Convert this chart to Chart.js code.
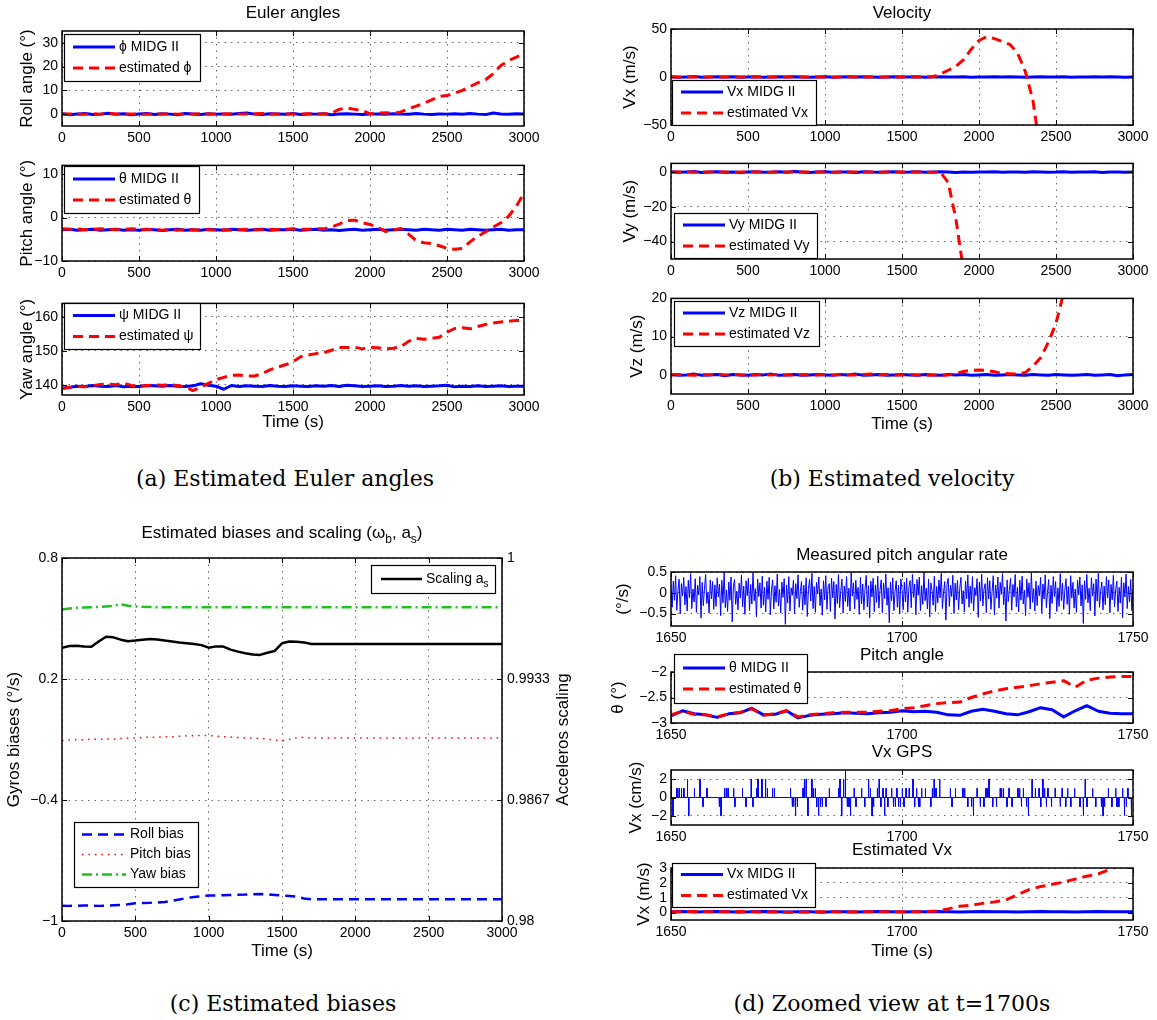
<!DOCTYPE html>
<html>
<head>
<meta charset="utf-8">
<title>Estimation results</title>
<script src="https://cdn.jsdelivr.net/npm/chart.js@4.4.1/dist/chart.umd.min.js"></script>
<style>
  html, body { margin: 0; padding: 0; background: #fff; }
  body { position: relative; width: 1157px; height: 1020px; overflow: hidden; }
  canvas { position: absolute; }
  .caption { position: absolute; transform: translate(-50%, -50%); white-space: nowrap;
             font-family: "DejaVu Serif", "Liberation Serif", serif; font-size: 22px; color: #000; }
</style>
</head>
<body>
<div class="caption" style="left:285px; top:478px">(a) Estimated Euler angles</div>
<div class="caption" style="left:892px; top:478px">(b) Estimated velocity</div>
<div class="caption" style="left:283px; top:1003px">(c) Estimated biases</div>
<div class="caption" style="left:892px; top:1003px">(d) Zoomed view at t=1700s</div>
<script>
// ---------- time bases ----------
const tA = [
  0, 50, 100, 150, 200, 250, 300, 350, 400, 450,
  500, 550, 600, 650, 700, 750, 800, 850, 900, 950,
  1000, 1050, 1100, 1150, 1200, 1250, 1300, 1350, 1400, 1450,
  1500, 1550, 1600, 1650, 1700, 1750, 1800, 1850, 1900, 1950,
  2000, 2050, 2100, 2150, 2200, 2250, 2300, 2350, 2400, 2450,
  2500, 2550, 2600, 2650, 2700, 2750, 2800, 2850, 2900, 2950,
  3000
];
const tZ = [
  1650, 1652.5, 1655, 1657.5, 1660, 1662.5, 1665, 1667.5, 1670, 1672.5,
  1675, 1677.5, 1680, 1682.5, 1685, 1687.5, 1690, 1692.5, 1695, 1697.5,
  1700, 1702.5, 1705, 1707.5, 1710, 1712.5, 1715, 1717.5, 1720, 1722.5,
  1725, 1727.5, 1730, 1732.5, 1735, 1737.5, 1740, 1742.5, 1745, 1747.5,
  1750
];

// ---------- (a) Euler angles ----------
const rollMidg = [
  0.2, -0.3, 0.1, 0.3, -0.2, 0.0, 0.4, -0.1, 0.2, -0.3,
  0.1, 0.3, -0.2, 0.2, 0.0, -0.3, 0.3, 0.1, -0.2, 0.2,
  0.0, 0.1, -0.1, 0.3, 0.5, 0.0, -0.2, 0.2, 0.1, -0.1,
  0.3, -0.2, 0.1, 0.0, 0.2, -0.3, 0.1, 0.2, 0.0, -0.2,
  0.0, 0.1, -0.1, 0.2, 0.0, -0.1, 0.3, 0.0, -0.2, 0.1,
  0.0, 0.2, -0.1, 0.3, 0.0, -0.2, 0.5, 0.1, -0.1, 0.2,
  0.0
];
const rollEst = [
  0.0, 0.1, 0.0, -0.1, 0.2, 0.0, 0.3, 0.1, 0.0, 0.1,
  0.0, -0.1, 0.1, 0.0, 0.2, 0.0, 0.1, 0.0, 0.2, 0.1,
  0.0, 0.1, 0.2, 0.0, 0.1, 0.2, 0.3, 0.0, 0.1, 0.0,
  0.1, 0.0, 0.2, 0.0, 0.1, 0.4, 2.0, 2.6, 2.0, 1.4,
  0.2, 0.4, 0.6, 0.3, 0.9, 2.3, 3.4, 4.6, 6.0, 7.5,
  7.8, 8.8, 10.0, 11.6, 13.2, 14.5, 17.0, 20.5, 22.5, 24.0,
  25.3
];
const pitchMidg = [
  -2.8, -2.7, -2.9, -2.8, -2.7, -2.9, -2.8, -2.7, -2.9, -2.8,
  -2.9, -2.7, -2.8, -3.0, -2.8, -2.7, -2.9, -2.8, -2.9, -2.7,
  -2.8, -2.9, -2.7, -2.8, -2.9, -2.8, -2.7, -2.9, -2.8, -2.8,
  -2.7, -2.9, -2.8, -2.7, -2.9, -2.8, -3.0, -2.8, -2.7, -2.9,
  -2.8, -2.7, -2.9, -2.8, -2.7, -2.8, -2.9, -2.7, -2.8, -2.9,
  -2.7, -2.8, -2.9, -2.7, -2.8, -2.9, -2.8, -2.7, -2.9, -2.8,
  -2.8
];
const pitchEst = [
  -2.6, -2.7, -2.6, -2.8, -2.7, -2.6, -2.7, -2.8, -2.7, -2.6,
  -2.7, -2.8, -2.7, -2.9, -2.8, -2.9, -2.8, -2.8, -2.9, -2.8,
  -2.9, -2.8, -2.9, -2.8, -2.7, -2.8, -2.8, -2.7, -2.8, -2.7,
  -2.6, -2.7, -2.7, -2.6, -2.6, -2.2, -1.5, -0.7, -0.6, -1.2,
  -1.6, -2.2, -3.2, -2.9, -2.5, -3.8, -5.3, -5.8, -6.0, -6.5,
  -7.1, -7.3, -7.1, -5.6, -4.3, -3.3, -2.2, -1.2, 0.3, 2.6,
  5.6
];
const yawMidg = [
  139.0, 139.3, 139.6, 139.5, 139.8, 139.6, 139.5, 139.8, 139.4, 139.6,
  139.5, 139.8, 139.7, 139.6, 139.8, 139.6, 139.5, 139.7, 140.3, 139.9,
  139.6, 138.7, 139.8, 139.5, 139.7, 139.6, 139.5, 139.8, 139.6, 139.5,
  139.7, 139.6, 139.5, 139.7, 139.6, 139.8, 139.5, 139.9, 139.7, 139.5,
  139.6, 139.7, 139.5, 139.6, 139.8, 139.6, 139.7, 139.5, 139.6, 139.7,
  139.9, 139.4, 139.6, 139.5, 139.7, 139.5, 139.6, 139.7, 139.5, 139.6,
  139.6
];
const yawEst = [
  139.0, 139.2, 139.5, 139.4, 139.8, 140.1, 140.2, 140.0, 140.5, 139.8,
  139.5, 139.8, 140.0, 139.9, 140.0, 139.8, 139.4, 138.3, 139.3, 140.4,
  141.5, 142.2, 142.8, 142.9, 142.6, 142.6, 143.3, 144.4, 145.2, 145.9,
  146.8, 148.3, 148.8, 149.2, 149.5, 150.2, 151.0, 151.0, 151.1, 150.6,
  151.0, 150.9, 150.6, 150.8, 151.2, 152.8, 153.7, 153.4, 153.7, 154.0,
  155.5, 156.6, 156.8, 156.5, 157.2, 157.8, 158.2, 158.5, 158.7, 159.0,
  158.9
];

// ---------- (b) velocity ----------
const vxMidg = [
  0.3, -0.2, 0.1, 0.4, -0.3, 0.0, 0.2, -0.1, 0.3, -0.2,
  0.1, 0.2, -0.3, 0.0, 0.3, -0.1, 0.2, 0.0, -0.2, 0.1,
  0.3, -0.2, 0.0, 0.2, -0.1, 0.3, 0.0, -0.3, 0.1, 0.2,
  -0.1, 0.0, 0.3, -0.2, 0.1, 0.2, 0.0, -0.1, 0.3, -0.2,
  0.1, 0.0, 0.2, -0.1, 0.3, 0.0, -0.2, 0.1, 0.2, -0.1,
  0.0, 0.3, -0.2, 0.1, 0.0, 0.2, -0.1, 0.3, 0.0, -0.2,
  0.1
];
const vxEst = [
  0.1, 0.0, -0.1, 0.2, 0.0, 0.1, 0.0, -0.1, 0.1, 0.0,
  0.2, 0.0, 0.1, -0.1, 0.0, 0.1, 0.2, 0.0, -0.1, 0.1,
  0.0, 0.1, 0.0, 0.2, -0.1, 0.0, 0.1, 0.0, 0.1, -0.1,
  0.0, 0.2, 0.0, 0.1, 0.3, 3.0, 7.0, 11.0, 18.0, 29.0,
  38.0, 42.0, 40.0, 37.0, 34.0, 25.0, 6.0, -24.0, -80.0, null,
  null, null, null, null, null, null, null, null, null, null,
  null
];
const vyMidg = [
  0.2, -0.1, 0.1, 0.3, -0.2, 0.0, 0.2, -0.1, 0.1, -0.2,
  0.1, 0.2, -0.1, 0.0, 0.2, -0.1, 0.3, 0.0, -0.2, 0.1,
  0.2, -0.1, 0.0, 0.1, -0.2, 0.2, 0.0, -0.1, 0.1, 0.2,
  -0.1, 0.0, 0.2, -0.1, 0.1, 0.2, 0.0, -0.2, 0.1, -0.1,
  0.1, 0.0, 0.2, -0.1, 0.1, 0.0, -0.1, 0.2, 0.1, -0.1,
  0.0, 0.2, -0.1, 0.1, 0.0, 0.2, -0.2, 0.1, 0.0, -0.1,
  0.1
];
const vyEst = [
  0.0, 0.1, 0.0, -0.1, 0.1, 0.0, 0.1, 0.0, -0.1, 0.0,
  0.1, 0.0, 0.0, -0.1, 0.1, 0.0, 0.1, 0.0, 0.0, 0.1,
  0.0, -0.1, 0.0, 0.1, 0.0, 0.0, 0.1, -0.1, 0.0, 0.1,
  0.0, 0.0, 0.1, 0.0, -0.1, 0.0, -6.0, -27.0, -57.0, null,
  null, null, null, null, null, null, null, null, null, null,
  null, null, null, null, null, null, null, null, null, null,
  null
];
const vzMidg = [
  0.1, -0.1, 0.0, 0.2, -0.1, 0.0, 0.1, -0.2, 0.1, 0.0,
  -0.1, 0.1, 0.0, 0.2, -0.1, 0.0, 0.1, -0.1, 0.0, 0.1,
  0.0, -0.1, 0.1, 0.0, 0.2, -0.1, 0.0, 0.1, -0.1, 0.0,
  0.1, 0.0, -0.1, 0.1, 0.0, -0.1, 0.1, 0.0, 0.1, -0.1,
  0.0, 0.1, -0.1, 0.0, 0.1, 0.0, -0.1, 0.1, 0.0, -0.1,
  0.1, 0.0, -0.1, 0.0, 0.1, -0.1, 0.0, 0.1, -0.2, 0.0,
  0.1
];
const vzEst = [
  0.0, 0.1, 0.0, -0.1, 0.1, 0.0, 0.2, 0.0, 0.1, 0.0,
  -0.1, 0.0, 0.1, 0.0, 0.1, 0.0, 0.0, 0.1, 0.0, 0.0,
  0.1, 0.0, 0.1, 0.0, 0.0, 0.1, 0.2, 0.0, 0.1, 0.0,
  0.0, 0.1, 0.0, -0.1, 0.0, -0.2, 0.0, 0.3, 0.9, 1.2,
  1.3, 1.2, 0.8, 0.4, 0.3, 0.2, 0.6, 2.2, 4.5, 8.5,
  13.5, 21.5, 30.0, null, null, null, null, null, null, null,
  null
];

// ---------- (c) biases and scaling ----------
const rollBias = [
  -0.924, -0.925, -0.924, -0.923, -0.924, -0.925, -0.924, -0.922, -0.920, -0.917,
  -0.912, -0.911, -0.910, -0.908, -0.906, -0.900, -0.893, -0.886, -0.881, -0.877,
  -0.874, -0.873, -0.872, -0.871, -0.870, -0.869, -0.867, -0.866, -0.868, -0.871,
  -0.874, -0.876, -0.879, -0.888, -0.892, -0.892, -0.892, -0.892, -0.892, -0.892,
  -0.892, -0.892, -0.892, -0.892, -0.892, -0.892, -0.892, -0.892, -0.892, -0.892,
  -0.892, -0.892, -0.892, -0.892, -0.892, -0.892, -0.892, -0.892, -0.892, -0.892,
  -0.892
];
const pitchBias = [
  -0.105, -0.103, -0.100, -0.102, -0.098, -0.100, -0.097, -0.099, -0.095, -0.093,
  -0.093, -0.090, -0.088, -0.090, -0.086, -0.087, -0.084, -0.082, -0.081, -0.080,
  -0.080, -0.083, -0.086, -0.088, -0.090, -0.091, -0.093, -0.095, -0.098, -0.103,
  -0.105, -0.100, -0.092, -0.089, -0.093, -0.093, -0.093, -0.093, -0.093, -0.093,
  -0.093, -0.093, -0.093, -0.093, -0.093, -0.093, -0.093, -0.093, -0.093, -0.093,
  -0.093, -0.093, -0.093, -0.093, -0.093, -0.093, -0.093, -0.093, -0.093, -0.093,
  -0.093
];
const yawBias = [
  0.545, 0.550, 0.553, 0.555, 0.556, 0.557, 0.560, 0.563, 0.570, 0.563,
  0.560, 0.558, 0.557, 0.556, 0.556, 0.556, 0.556, 0.556, 0.556, 0.556,
  0.556, 0.556, 0.556, 0.556, 0.556, 0.556, 0.556, 0.556, 0.556, 0.556,
  0.556, 0.556, 0.556, 0.556, 0.556, 0.556, 0.556, 0.556, 0.556, 0.556,
  0.556, 0.556, 0.556, 0.556, 0.556, 0.556, 0.556, 0.556, 0.556, 0.556,
  0.556, 0.556, 0.556, 0.556, 0.556, 0.556, 0.556, 0.556, 0.556, 0.556,
  0.556
];
const accScaling = [
  0.99506, 0.99515, 0.99517, 0.99512, 0.99511, 0.99540, 0.99566, 0.99563, 0.99550, 0.99541,
  0.99545, 0.99550, 0.99554, 0.99551, 0.99545, 0.99540, 0.99534, 0.99530, 0.99526, 0.99520,
  0.99506, 0.99513, 0.99512, 0.99495, 0.99484, 0.99475, 0.99468, 0.99466, 0.99478, 0.99488,
  0.99530, 0.99540, 0.99539, 0.99535, 0.99526, 0.99526, 0.99526, 0.99526, 0.99526, 0.99526,
  0.99526, 0.99526, 0.99526, 0.99526, 0.99526, 0.99526, 0.99526, 0.99526, 0.99526, 0.99526,
  0.99526, 0.99526, 0.99526, 0.99526, 0.99526, 0.99526, 0.99526, 0.99526, 0.99526, 0.99526,
  0.99526
];

// ---------- (d) zoom at t = 1700 s ----------
const rateStart = 1650, rateStep = 0.25;   // gyro sample times
const rateVals = [
  0.12, -0.35, 0.28, -0.18, 0.41, -0.42, 0.05, 0.33, -0.51, 0.22, -0.08, 0.37, -0.29, 0.15, -0.44, 0.30, -0.12, 0.46, -0.38, 0.09,
  -0.22, 0.34, -0.47, 0.18, -0.05, 0.39, -0.61, 0.25, -0.31, 0.11, 0.44, -0.26, 0.02, -0.49, 0.31, -0.15, 0.27, -0.40, 0.19, -0.33,
  0.36, -0.10, 0.21, -0.55, 0.30, -0.24, 0.50, -0.36, 0.07, -0.45, 0.26, -0.18, 0.38, -0.70, 0.14, 0.32, -0.28, 0.04, -0.41, 0.23,
  -0.13, 0.42, -0.34, 0.16, -0.52, 0.29, -0.07, 0.35, -0.43, 0.20, -0.27, 0.48, -0.19, 0.10, -0.58, 0.33, -0.09, 0.24, -0.37, 0.40,
  -0.30, 0.13, -0.46, 0.28, -0.16, 0.37, -0.53, 0.06, 0.31, -0.39, 0.17, -0.23, 0.45, -0.32, 0.08, -0.48, 0.26, -0.11, 0.34, -0.76,
  0.19, -0.25, 0.39, -0.44, 0.12, -0.06, 0.30, -0.50, 0.22, -0.14, 0.43, -0.35, 0.03, 0.27, -0.42, 0.18, -0.29, 0.36, -0.57, 0.10,
  0.32, -0.20, 0.47, -0.38, 0.15, -0.47, 0.25, -0.03, 0.38, -0.31, 0.09, -0.54, 0.29, -0.17, 0.41, -0.40, 0.14, 0.22, -0.45, 0.35,
  -0.12, 0.27, -0.63, 0.20, -0.26, 0.44, -0.36, 0.05, 0.33, -0.49, 0.16, -0.21, 0.39, -0.33, 0.11, -0.44, 0.50, -0.08, 0.24, -0.39,
  0.30, -0.16, 0.13, -0.52, 0.37, -0.27, 0.21, -0.41, 0.08, 0.42, -0.34, 0.17, -0.60, 0.28, -0.10, 0.35, -0.46, 0.19, -0.23, 0.40,
  -0.37, 0.07, 0.31, -0.48, 0.23, -0.14, 0.45, -0.30, 0.12, -0.72, 0.26, -0.19, 0.36, -0.43, 0.04, 0.29, -0.35, 0.18, -0.51, 0.33,
  0.08, -0.41, 0.26, -0.22, 0.35, -0.47, 0.14, 0.29, -0.36, 0.44, -0.11, 0.21, -0.53, 0.32, -0.06, 0.38, -0.43, 0.17, -0.28, 0.49,
  -0.19, 0.11, -0.39, 0.33, -0.58, 0.24, 0.06, -0.30, 0.40, -0.45, 0.15, -0.24, 0.31, -0.12, 0.47, -0.38, 0.02, 0.27, -0.66, 0.20,
  0.35, -0.33, 0.18, -0.09, 0.42, -0.50, 0.23, -0.17, 0.30, -0.41, 0.10, 0.37, -0.27, 0.05, -0.46, 0.28, -0.14, 0.43, -0.35, 0.16,
  -0.25, 0.39, -0.44, 0.12, -0.07, 0.34, -0.59, 0.26, -0.20, 0.45, -0.32, 0.09, 0.22, -0.48, 0.36, -0.15, 0.29, -0.40, 0.03, 0.41,
  -0.53, 0.19, -0.13, 0.38, -0.37, 0.25, -0.04, 0.46, -0.29, 0.14, -0.68, 0.31, -0.21, 0.08, 0.35, -0.42, 0.20, -0.10, 0.44, -0.34,
  0.13, -0.46, 0.30, -0.18, 0.40, -0.27, 0.06, -0.55, 0.33, -0.11, 0.24, -0.39, 0.48, -0.23, 0.10, -0.44, 0.28, -0.31, 0.17, -0.07,
  0.37, -0.49, 0.21, -0.15, 0.43, -0.36, 0.01, 0.32, -0.62, 0.18, -0.26, 0.39, -0.09, 0.27, -0.45, 0.12, -0.33, 0.46, -0.19, 0.23,
  -0.40, 0.06, 0.34, -0.28, 0.15, -0.52, 0.41, -0.13, 0.25, -0.37, 0.09, -0.47, 0.30, -0.05, 0.38, -0.32, 0.19, -0.74, 0.29, -0.16,
  0.44, -0.24, 0.11, -0.43, 0.36, -0.08, 0.22, -0.56, 0.33, -0.20, 0.47, -0.35, 0.04, 0.26, -0.41, 0.16, -0.29, 0.39, -0.12, 0.31,
  -0.48, 0.20, -0.17, 0.42, -0.34, 0.07, 0.28, -0.45, 0.13, -0.25, 0.37, -0.60, 0.24, -0.10, 0.45, -0.38, 0.15, -0.22, 0.32, -0.43,
  0.10
];
const pitchMidgZ = [
  -2.86, -2.76, -2.82, -2.84, -2.89, -2.82, -2.80, -2.71, -2.84, -2.83,
  -2.76, -2.90, -2.85, -2.83, -2.82, -2.80, -2.81, -2.82, -2.80, -2.79,
  -2.76, -2.78, -2.77, -2.79, -2.84, -2.85, -2.77, -2.73, -2.77, -2.82,
  -2.84, -2.78, -2.70, -2.74, -2.88, -2.76, -2.66, -2.77, -2.81, -2.82,
  -2.82
];
const pitchEstZ = [
  -2.84, -2.77, -2.83, -2.84, -2.88, -2.82, -2.79, -2.72, -2.85, -2.82,
  -2.76, -2.88, -2.84, -2.82, -2.80, -2.79, -2.79, -2.79, -2.77, -2.76,
  -2.72, -2.70, -2.66, -2.62, -2.60, -2.59, -2.50, -2.43, -2.37, -2.33,
  -2.30, -2.27, -2.23, -2.20, -2.17, -2.30, -2.16, -2.12, -2.10, -2.09,
  -2.09
];
const gpsWidth = 0.12;   // one GPS sample, s
const gpsT = [
  1650.0, 1650.4, 1651.2, 1651.7, 1652.2, 1652.7, 1653.5, 1653.8, 1655.0, 1656.2,
  1656.9, 1657.7, 1660.4, 1660.8, 1661.5, 1661.9, 1662.3, 1663.5, 1663.8, 1665.4,
  1666.2, 1667.3, 1667.7, 1668.5, 1668.8, 1669.6, 1670.4, 1670.8, 1671.9, 1672.3,
  1675.8, 1676.2, 1676.5, 1676.9, 1677.3, 1678.5, 1678.8, 1679.2, 1679.6, 1680.4,
  1680.8, 1681.2, 1681.5, 1681.9, 1682.3, 1682.7, 1683.5, 1684.2, 1686.2, 1686.5,
  1686.9, 1687.3, 1687.7, 1688.1, 1688.5, 1688.8, 1689.6, 1690.0, 1691.2, 1691.9,
  1692.7, 1693.1, 1693.5, 1693.8, 1694.6, 1695.0, 1695.4, 1695.8, 1696.2, 1696.5,
  1696.9, 1697.7, 1698.1, 1698.5, 1698.8, 1699.2, 1699.6, 1700.0, 1700.4, 1700.8,
  1701.5, 1702.3, 1702.7, 1703.1, 1703.5, 1703.8, 1704.2, 1705.0, 1706.2, 1706.5,
  1706.9, 1707.3, 1708.1, 1710.4, 1710.8, 1711.5, 1713.1, 1713.5, 1714.2, 1715.0,
  1715.4, 1716.2, 1716.9, 1717.7, 1718.1, 1718.5, 1718.8, 1719.6, 1720.4, 1721.2,
  1721.5, 1721.9, 1722.7, 1723.1, 1723.8, 1725.0, 1725.4, 1725.8, 1726.2, 1726.9,
  1727.3, 1728.1, 1728.8, 1729.6, 1730.0, 1730.4, 1730.8, 1731.2, 1731.5, 1732.3,
  1733.1, 1734.2, 1734.6, 1735.4, 1735.8, 1736.5, 1737.3, 1738.5, 1739.2, 1739.6,
  1740.0, 1741.2, 1741.9, 1743.1, 1743.5, 1743.8, 1744.6, 1745.4, 1746.2, 1746.5,
  1746.9, 1747.7, 1748.1, 1748.5, 1748.8, 1749.6
];
const gpsV = [
  2, -2, 1, 1, 1, 1, 2, -2, 1, 2,
  -1, 1, -1, -2, 1, 1, 1, 1, -1, 1,
  -1, 2, -1, 1, 2, 2, 2, 1, 1, 1,
  1, -1, -1, -2, -1, 1, 2, 2, -2, 2,
  1, 1, -1, -2, -1, -1, -1, 1, 1, 2,
  -2, 2, 3, -1, -1, -2, 1, -1, 1, -1,
  2, 1, -2, -1, 1, 2, -1, 1, -2, 1,
  -1, 1, -1, -1, 1, -1, -1, 1, -1, 1,
  1, 2, -1, 1, -1, -1, 1, 1, -1, 1,
  2, 1, 2, 1, -1, 1, 1, 1, -1, -1,
  -2, 1, -1, -1, 1, 1, 2, -1, -1, 1,
  1, 1, -1, 1, -1, 1, 1, -1, 1, -1,
  -2, 2, 1, 1, -1, 2, 1, -1, 1, -1,
  1, -1, 1, -1, 1, -1, 1, -1, -2, 2,
  -1, 1, -1, -1, -2, -1, 1, -1, 1, -1,
  -1, 1, -2, -1, 1, -2
];
const vxMidgZ = [
  0.05, 0.07, 0.04, 0.06, 0.08, 0.05, 0.03, 0.06, 0.07, 0.05,
  0.04, 0.06, 0.05, 0.03, 0.05, 0.06, 0.04, 0.05, 0.07, 0.05,
  0.04, 0.06, 0.05, 0.07, 0.06, 0.04, 0.05, 0.07, 0.06, 0.05,
  0.04, 0.06, 0.07, 0.05, 0.06, 0.04, 0.05, 0.07, 0.06, 0.05,
  0.05
];
const vxEstZ = [
  0.05, 0.06, 0.08, 0.06, 0.05, 0.06, 0.07, 0.05, 0.04, 0.05,
  0.03, 0.02, 0.04, 0.06, 0.05, 0.04, 0.05, 0.06, 0.05, 0.05,
  0.05, 0.05, 0.06, 0.10, 0.25, 0.42, 0.50, 0.62, 0.72, 0.85,
  1.20, 1.55, 1.75, 1.90, 2.05, 2.25, 2.45, 2.60, 2.92, 3.20,
  3.45
];

// ---------- tick values / labels ----------
const tTicks = [0, 500, 1000, 1500, 2000, 2500, 3000];
const tTickLabels = ['0', '500', '1000', '1500', '2000', '2500', '3000'];
const zTicks = [1650, 1700, 1750];
const zTickLabels = ['1650', '1700', '1750'];
const rollTicks = [0, 10, 20, 30],            rollLabels = ['0', '10', '20', '30'];
const pitchTicks = [-10, 0, 10],              pitchLabels = ['−10', '0', '10'];
const yawTicks = [140, 150, 160],             yawLabels = ['140', '150', '160'];
const vxTicks = [-50, 0, 50],                 vxLabels = ['−50', '0', '50'];
const vyTicks = [-40, -20, 0],                vyLabels = ['−40', '−20', '0'];
const vzTicks = [0, 10, 20],                  vzLabels = ['0', '10', '20'];
const gyroTicks = [-1, -0.4, 0.2, 0.8],       gyroLabels = ['−1', '−0.4', '0.2', '0.8'];
const accTicks = [0.98, 0.986667, 0.993333, 1], accLabels = ['0.98', '0.9867', '0.9933', '1'];
const rateTicks = [-0.5, 0, 0.5],             rateLabels = ['−0.5', '0', '0.5'];
const pitchZTicks = [-3, -2.5, -2],           pitchZLabels = ['−3', '−2.5', '−2'];
const gpsTicks = [-2, 0, 2],                  gpsLabels = ['−2', '0', '2'];
const vxZTicks = [0, 1, 2, 3],                vxZLabels = ['0', '1', '2', '3'];

// ---------- helpers ----------
const SANS = '"Liberation Sans", Arial, Helvetica, sans-serif';
Chart.defaults.font.family = SANS;
Chart.defaults.color = '#000';
const BLUE = '#0000ff', RED = '#ff0000', GREEN = '#1fbf1f', BLACK = '#000000';

const xy = (ts, vs) => ts.map((t, i) => ({x: t, y: vs[i]}));
const midg = (label, ts, vs) => ({label, data: xy(ts, vs), borderColor: BLUE, borderWidth: 3, order: 1, clip: 0});
const est = (label, ts, vs) => ({label, data: xy(ts, vs), borderColor: RED, borderWidth: 3, borderDash: [10, 6], order: 0, clip: 0});

// "a_s" -> a + subscript s
function richParts(s) {
  const out = [];
  let buf = '';
  for (let i = 0; i < s.length; i++) {
    if (s[i] === '_' && i + 1 < s.length) {
      if (buf) out.push({t: buf, sub: false});
      out.push({t: s[i + 1], sub: true});
      buf = '';
      i++;
    } else buf += s[i];
  }
  if (buf) out.push({t: buf, sub: false});
  return out;
}
function drawRich(ctx, s, x, y, size, align) {
  const ps = richParts(s);
  const subSize = Math.round(size * 0.72);
  let w = 0;
  ps.forEach(p => { ctx.font = (p.sub ? subSize : size) + 'px ' + SANS; p.w = ctx.measureText(p.t).width; w += p.w; });
  let cx = align === 'center' ? x - w / 2 : x;
  ctx.textAlign = 'left';
  ctx.textBaseline = 'middle';
  ctx.fillStyle = '#000';
  ps.forEach(p => {
    ctx.font = (p.sub ? subSize : size) + 'px ' + SANS;
    ctx.fillText(p.t, cx, p.sub ? y + size * 0.38 : y);
    cx += p.w;
  });
}

// matlab style box, inward ticks, title and legend boxes
function decoPlugin(cfg, ox, oy) {
  return {
    id: 'deco',
    afterDatasetsDraw(chart) {
      const {ctx, chartArea: a} = chart;
      const xs = chart.scales.x, ys = chart.scales.y;
      ctx.save();
      ctx.setLineDash([]);
      ctx.strokeStyle = '#000';
      ctx.lineWidth = 1;
      ctx.beginPath();
      xs.ticks.forEach(t => {
        const p = Math.round(xs.getPixelForValue(t.value)) + 0.5;
        ctx.moveTo(p, a.bottom); ctx.lineTo(p, a.bottom - 5);
        ctx.moveTo(p, a.top); ctx.lineTo(p, a.top + 5);
      });
      ys.ticks.forEach(t => {
        const p = Math.round(ys.getPixelForValue(t.value)) + 0.5;
        ctx.moveTo(a.left, p); ctx.lineTo(a.left + 5, p);
        ctx.moveTo(a.right, p); ctx.lineTo(a.right - 5, p);
      });
      ctx.stroke();
      ctx.lineWidth = 1.5;
      ctx.strokeRect(a.left, a.top, a.right - a.left, a.bottom - a.top);
      ctx.restore();
    },
    afterDraw(chart) {
      const ctx = chart.ctx;
      const [L, T, R, B] = cfg.box;
      ctx.save();
      if (cfg.title) drawRich(ctx, cfg.title.text, (L + R) / 2 - ox, cfg.title.y - oy, 17, 'center');
      if (cfg.y2 && cfg.y2.title) {
        ctx.save();
        ctx.translate(cfg.y2.titleX - ox, (T + B) / 2 - oy);
        ctx.rotate(-Math.PI / 2);
        drawRich(ctx, cfg.y2.title, 0, 0, 17, 'center');
        ctx.restore();
      }
      (cfg.legends || []).forEach(lg => {
        const x = lg.x - ox, y = lg.y - oy;
        const inset = lg.inset || 9, len = lg.len || 42, row = lg.row || 21;
        ctx.setLineDash([]);
        ctx.fillStyle = '#fff';
        ctx.fillRect(x, y, lg.w, lg.h);
        ctx.strokeStyle = '#000';
        ctx.lineWidth = 1.2;
        ctx.strokeRect(x + 0.5, y + 0.5, lg.w, lg.h);
        const n = lg.items.length;
        lg.items.forEach((di, k) => {
          const ds = chart.data.datasets[di];
          const ry = y + lg.h / 2 + (k - (n - 1) / 2) * row;
          ctx.save();
          ctx.strokeStyle = ds.borderColor;
          ctx.lineWidth = ds.borderWidth;
          ctx.setLineDash(ds.borderDash || []);
          ctx.beginPath();
          ctx.moveTo(x + inset, ry);
          ctx.lineTo(x + inset + len, ry);
          ctx.stroke();
          ctx.restore();
          drawRich(ctx, ds.label, x + inset + len + 4, ry, 14, 'left');
        });
      });
      ctx.restore();
    }
  };
}

function axisOpts(ax, fixedSize, isX) {
  const o = {
    type: 'linear', min: ax.min, max: ax.max, bounds: 'data',
    afterBuildTicks: s => { s.ticks = ax.ticks.map(v => ({value: v})); },
    afterFit: s => { if (isX) s.height = fixedSize; else s.width = fixedSize; },
    ticks: {autoSkip: false, maxRotation: 0, padding: 4, font: {size: 14},
            callback: (v, i) => ax.labels[i]},
    grid: {color: 'rgba(0,0,0,0.6)', lineWidth: 1, drawTicks: false},
    border: {display: false, dash: [1.5, 5]},
    title: {display: false}
  };
  if (ax.title) {
    o.title = {display: true, text: ax.title, font: {size: 17}, color: '#000',
               padding: isX ? {top: 0, bottom: ax.tpad} : {top: ax.tpad, bottom: 0}};
  }
  return o;
}

function makePlot(cfg) {
  const [L, T, R, B] = cfg.box, m = cfg.m;
  const ox = L - m.l, oy = T - m.t;
  const W = R - L + m.l + m.r, H = B - T + m.t + m.b;
  const cv = document.createElement('canvas');
  cv.width = W; cv.height = H;
  cv.style.left = ox + 'px'; cv.style.top = oy + 'px';
  cv.style.width = W + 'px'; cv.style.height = H + 'px';
  document.body.appendChild(cv);

  const scales = {x: axisOpts(cfg.x, m.b, true), y: axisOpts(cfg.y, m.l, false)};
  if (cfg.y2) {
    const y2 = axisOpts({min: cfg.y2.min, max: cfg.y2.max, ticks: cfg.y2.ticks, labels: cfg.y2.labels}, m.r, false);
    y2.position = 'right';
    y2.grid = {display: false, drawTicks: false};
    y2.ticks.padding = 5;
    scales.y2 = y2;
  }
  new Chart(cv, {
    type: 'line',
    data: {datasets: cfg.datasets},
    options: {
      responsive: false, animation: false, events: [],
      layout: {padding: {left: 0, top: m.t, right: cfg.y2 ? 0 : m.r, bottom: 0}},
      elements: {point: {radius: 0}, line: {tension: 0, borderJoinStyle: 'round'}},
      plugins: {legend: {display: false}, tooltip: {enabled: false}, title: {display: false}},
      scales
    },
    plugins: [decoPlugin(cfg, ox, oy)]
  });
}

// ---------- (a) Euler angles ----------
const xA = {min: 0, max: 3000, ticks: tTicks, labels: tTickLabels};
makePlot({
  box: [62, 31, 524, 126], m: {l: 62, t: 31, r: 20, b: 24},
  title: {text: 'Euler angles', y: 13},
  x: xA,
  y: {min: -5, max: 35, ticks: rollTicks, labels: rollLabels, title: 'Roll angle (°)', tpad: 17},
  datasets: [midg('ϕ MIDG II', tA, rollMidg), est('estimated ϕ', tA, rollEst)],
  legends: [{x: 64, y: 34, w: 136, h: 47, items: [0, 1]}]
});
makePlot({
  box: [62, 165, 524, 261], m: {l: 62, t: 12, r: 20, b: 24},
  x: xA,
  y: {min: -10, max: 12, ticks: pitchTicks, labels: pitchLabels, title: 'Pitch angle (°)', tpad: 17},
  datasets: [midg('θ MIDG II', tA, pitchMidg), est('estimated θ', tA, pitchEst)],
  legends: [{x: 64, y: 166, w: 135, h: 47, items: [0, 1]}]
});
makePlot({
  box: [62, 303, 524, 395], m: {l: 62, t: 12, r: 20, b: 40},
  x: Object.assign({title: 'Time (s)', tpad: 2}, xA),
  y: {min: 137, max: 164, ticks: yawTicks, labels: yawLabels, title: 'Yaw angle (°)', tpad: 17},
  datasets: [midg('ψ MIDG II', tA, yawMidg), est('estimated ψ', tA, yawEst)],
  legends: [{x: 64, y: 303, w: 136, h: 46, items: [0, 1]}]
});

// ---------- (b) velocity ----------
makePlot({
  box: [671, 29, 1133, 125], m: {l: 71, t: 29, r: 22, b: 24},
  title: {text: 'Velocity', y: 13},
  x: xA,
  y: {min: -50, max: 50, ticks: vxTicks, labels: vxLabels, title: 'Vx (m/s)', tpad: 20},
  datasets: [midg('Vx MIDG II', tA, vxMidg), est('estimated Vx', tA, vxEst)],
  legends: [{x: 672, y: 80, w: 144, h: 45, items: [0, 1]}]
});
makePlot({
  box: [671, 163, 1133, 259], m: {l: 71, t: 12, r: 22, b: 24},
  x: xA,
  y: {min: -50, max: 5, ticks: vyTicks, labels: vyLabels, title: 'Vy (m/s)', tpad: 20},
  datasets: [midg('Vy MIDG II', tA, vyMidg), est('estimated Vy', tA, vyEst)],
  legends: [{x: 674, y: 213, w: 143, h: 45, items: [0, 1]}]
});
makePlot({
  box: [671, 298, 1133, 394], m: {l: 71, t: 12, r: 22, b: 42},
  x: Object.assign({title: 'Time (s)', tpad: 1}, xA),
  y: {min: -5, max: 20, ticks: vzTicks, labels: vzLabels, title: 'Vz (m/s)', tpad: 27},
  datasets: [midg('Vz MIDG II', tA, vzMidg), est('estimated Vz', tA, vzEst)],
  legends: [{x: 674, y: 301, w: 145, h: 45, items: [0, 1]}]
});

// ---------- (c) biases and scaling ----------
makePlot({
  box: [62, 558, 502, 921], m: {l: 62, t: 40, r: 80, b: 42},
  title: {text: 'Estimated biases and scaling (ω_b, a_s)', y: 533},
  x: Object.assign({title: 'Time (s)', tpad: 1}, xA),
  y: {min: -1, max: 0.8, ticks: gyroTicks, labels: gyroLabels, title: 'Gyros biases (°/s)', tpad: 4},
  y2: {min: 0.98, max: 1, ticks: accTicks, labels: accLabels, title: 'Acceleros scaling', titleX: 563},
  datasets: [
    {label: 'Roll bias', data: xy(tA, rollBias), borderColor: BLUE, borderWidth: 2.5, borderDash: [10, 6]},
    {label: 'Pitch bias', data: xy(tA, pitchBias), borderColor: RED, borderWidth: 1.5, borderDash: [1.5, 5]},
    {label: 'Yaw bias', data: xy(tA, yawBias), borderColor: GREEN, borderWidth: 2.5, borderDash: [10, 4, 2, 4]},
    {label: 'Scaling a_s', data: xy(tA, accScaling), borderColor: BLACK, borderWidth: 2.5, yAxisID: 'y2'}
  ],
  legends: [
    {x: 371, y: 565, w: 124, h: 28, items: [3], inset: 10, len: 41},
    {x: 74, y: 822, w: 124, h: 65, items: [0, 1, 2], inset: 8, len: 44, row: 20}
  ]
});

// ---------- (d) zoomed view ----------
const xZ = {min: 1650, max: 1750, ticks: zTicks, labels: zTickLabels};
makePlot({
  box: [671, 572, 1133, 626], m: {l: 71, t: 30, r: 22, b: 24},
  title: {text: 'Measured pitch angular rate', y: 555},
  x: xZ,
  y: {min: -0.8, max: 0.5, ticks: rateTicks, labels: rateLabels, title: '(°/s)', tpad: 13},
  datasets: [{label: 'rate', data: rateVals.map((v, i) => ({x: rateStart + i * rateStep, y: v})),
              borderColor: BLUE, borderWidth: 1, clip: 0}]
});
makePlot({
  box: [671, 672, 1133, 723], m: {l: 71, t: 30, r: 22, b: 24},
  title: {text: 'Pitch angle', y: 655},
  x: xZ,
  y: {min: -3, max: -2, ticks: pitchZTicks, labels: pitchZLabels, title: 'θ (°)', tpad: 8},
  datasets: [midg('θ MIDG II', tZ, pitchMidgZ), est('estimated θ', tZ, pitchEstZ)],
  legends: [{x: 674, y: 654, w: 133, h: 49, items: [0, 1]}]
});
const gpsData = [{x: 1650, y: 0}];
gpsT.forEach((t, i) => {
  gpsData.push({x: t, y: 0}, {x: t, y: gpsV[i]}, {x: t + gpsWidth, y: gpsV[i]}, {x: t + gpsWidth, y: 0});
});
gpsData.push({x: 1750, y: 0});
makePlot({
  box: [671, 770, 1133, 825], m: {l: 71, t: 30, r: 22, b: 24},
  title: {text: 'Vx GPS', y: 752},
  x: xZ,
  y: {min: -3, max: 3, ticks: gpsTicks, labels: gpsLabels, title: 'Vx (cm/s)', tpad: 26},
  datasets: [{label: 'Vx GPS', data: gpsData, borderColor: BLUE, borderWidth: 1, clip: 0}]
});
makePlot({
  box: [671, 868, 1133, 920], m: {l: 71, t: 30, r: 22, b: 43},
  title: {text: 'Estimated Vx', y: 850},
  x: Object.assign({title: 'Time (s)', tpad: 1}, xZ),
  y: {min: -0.5, max: 3, ticks: vxZTicks, labels: vxZLabels, title: 'Vx (m/s)', tpad: 34},
  datasets: [midg('Vx MIDG II', tZ, vxMidgZ), est('estimated Vx', tZ, vxEstZ)],
  legends: [{x: 672, y: 863, w: 143, h: 44, items: [0, 1]}]
});
</script>
</body>
</html>
